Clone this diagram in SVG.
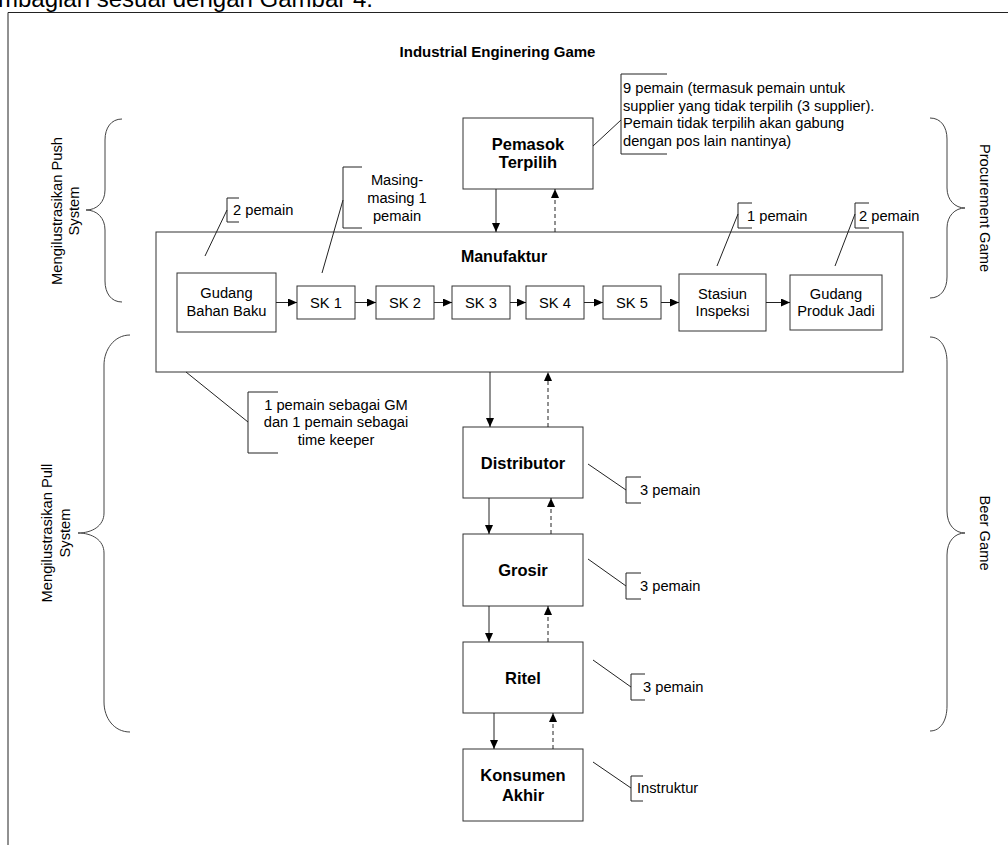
<svg xmlns="http://www.w3.org/2000/svg" width="1008" height="845" viewBox="0 0 1008 845">
<defs>
<style>
.t{font-family:"Liberation Sans",Arial,sans-serif;font-size:14.7px;fill:#000}
.b{font-weight:bold;font-size:16.5px}
.m{text-anchor:middle}
.box{fill:#fff;stroke:#333;stroke-width:1}
.ln{fill:none;stroke:#222;stroke-width:1}
.br{fill:none;stroke:#444;stroke-width:1}
.ds{stroke-dasharray:4,3}
</style>
<marker id="ah" markerUnits="userSpaceOnUse" markerWidth="9" markerHeight="8" refX="9" refY="4" orient="auto">
<path d="M0,0 L9,4 L0,8 z" fill="#000"/>
</marker>
</defs>
<rect width="1008" height="845" fill="#fff"/>
<text class="t" x="-2" y="7" style="font-size:24px">mbagian sesuai dengan Gambar 4.</text>
<path class="ln" d="M8,845 V12.5 H1008"/>
<text class="t m" x="497.5" y="57" style="font-weight:bold;font-size:15px">Industrial Enginering Game</text>

<g id="braces">
<path class="br" d="M122,119 C111,119 105,128 105,140 L105,190 C105,202 97,210 86,210 C97,210 105,218 105,230 L105,281 C105,293 111,302 122,302"/>
<text class="t m" transform="translate(62,211) rotate(-90)">Mengilustrasikan Push<tspan x="0" dy="16.7">System</tspan></text>
<path class="br" d="M130,335 C114,335 104,350 104,365 L104,513 C104,526 92,533 78,533 C92,533 104,540 104,553 L104,702 C104,718 114,732 130,732"/>
<text class="t m" transform="translate(52,533) rotate(-90)">Mengilustrasikan Pull<tspan x="0" dy="18.3">System</tspan></text>
<path class="br" d="M930,118 C941,118 947,127 947,139 L947,188 C947,200 955,208 965,208 C955,208 947,216 947,228 L947,277 C947,289 941,298 930,298"/>
<text class="t m" transform="translate(980,208) rotate(90)">Procurement Game</text>
<path class="br" d="M930,337 C941,337 947,348 947,362 L947,511 C947,525 955,533 965,533 C955,533 947,541 947,555 L947,706 C947,720 941,731 930,731"/>
<text class="t m" transform="translate(980,533) rotate(90)">Beer Game</text>
</g>

<g id="pemasok">
<rect class="box" x="463" y="118" width="130" height="71"/>
<text class="t b m" x="528" y="150">Pemasok</text>
<text class="t b m" x="528" y="168">Terpilih</text>
</g>

<g id="manufaktur">
<rect class="box" x="156" y="232" width="747" height="140"/>
<text class="t b m" x="504" y="262" style="font-size:16px">Manufaktur</text>
</g>

<g id="gudang-bahan-baku">
<rect class="box" x="177" y="273" width="99" height="59"/>
<text class="t m" x="226.5" y="298">Gudang</text>
<text class="t m" x="226.5" y="315.6">Bahan Baku</text>
</g>
<g id="sk1"><rect class="box" x="297" y="286" width="58" height="33"/><text class="t m" x="326" y="307.8">SK 1</text></g>
<g id="sk2"><rect class="box" x="376" y="286" width="58" height="33"/><text class="t m" x="405" y="307.8">SK 2</text></g>
<g id="sk3"><rect class="box" x="452" y="286" width="58" height="33"/><text class="t m" x="481" y="307.8">SK 3</text></g>
<g id="sk4"><rect class="box" x="526" y="286" width="58" height="33"/><text class="t m" x="555" y="307.8">SK 4</text></g>
<g id="sk5"><rect class="box" x="603" y="286" width="58" height="33"/><text class="t m" x="632" y="307.8">SK 5</text></g>
<g id="stasiun-inspeksi">
<rect class="box" x="679" y="274" width="87" height="57"/>
<text class="t m" x="722.5" y="298.5">Stasiun</text>
<text class="t m" x="722.5" y="316">Inspeksi</text>
</g>
<g id="gudang-produk-jadi">
<rect class="box" x="790" y="275" width="92" height="55"/>
<text class="t m" x="836" y="298.5">Gudang</text>
<text class="t m" x="836" y="316">Produk Jadi</text>
</g>

<g id="distributor">
<rect class="box" x="463" y="427" width="120" height="71"/>
<text class="t b m" x="523" y="468.5">Distributor</text>
</g>
<g id="grosir">
<rect class="box" x="463" y="534" width="120" height="72"/>
<text class="t b m" x="523" y="575.5">Grosir</text>
</g>
<g id="ritel">
<rect class="box" x="463" y="642" width="120" height="71"/>
<text class="t b m" x="523" y="683.5">Ritel</text>
</g>
<g id="konsumen-akhir">
<rect class="box" x="463" y="749" width="120" height="72"/>
<text class="t b m" x="523" y="781">Konsumen</text>
<text class="t b m" x="523" y="800.5">Akhir</text>
</g>

<g id="connectors">
<line class="ln" x1="496" y1="189" x2="496" y2="232" marker-end="url(#ah)"/>
<line class="ln ds" x1="555" y1="232" x2="555" y2="189" marker-end="url(#ah)"/>
<line class="ln" x1="276" y1="302.5" x2="297" y2="302.5" marker-end="url(#ah)"/>
<line class="ln" x1="355" y1="302.5" x2="376" y2="302.5" marker-end="url(#ah)"/>
<line class="ln" x1="434" y1="302.5" x2="452" y2="302.5" marker-end="url(#ah)"/>
<line class="ln" x1="510" y1="302.5" x2="526" y2="302.5" marker-end="url(#ah)"/>
<line class="ln" x1="584" y1="302.5" x2="603" y2="302.5" marker-end="url(#ah)"/>
<line class="ln" x1="661" y1="302.5" x2="679" y2="302.5" marker-end="url(#ah)"/>
<line class="ln" x1="766" y1="302.5" x2="790" y2="302.5" marker-end="url(#ah)"/>
<line class="ln" x1="490" y1="372" x2="490" y2="427" marker-end="url(#ah)"/>
<line class="ln ds" x1="548" y1="427" x2="548" y2="372" marker-end="url(#ah)"/>
<line class="ln" x1="489" y1="498" x2="489" y2="534" marker-end="url(#ah)"/>
<line class="ln ds" x1="551" y1="534" x2="551" y2="498" marker-end="url(#ah)"/>
<line class="ln" x1="489" y1="606" x2="489" y2="642" marker-end="url(#ah)"/>
<line class="ln ds" x1="548" y1="642" x2="548" y2="606" marker-end="url(#ah)"/>
<line class="ln" x1="494" y1="713" x2="494" y2="749" marker-end="url(#ah)"/>
<line class="ln ds" x1="553" y1="749" x2="553" y2="713" marker-end="url(#ah)"/>
</g>

<g id="callout-pemasok">
<path class="ln" d="M667,74 H621 V154 H667 M621,120 L593,146"/>
<text class="t" x="623" y="93">9 pemain (termasuk pemain untuk</text>
<text class="t" x="623" y="110.5">supplier yang tidak terpilih (3 supplier).</text>
<text class="t" x="623" y="128">Pemain tidak terpilih akan gabung</text>
<text class="t" x="623" y="145.5">dengan pos lain nantinya)</text>
</g>
<g id="callout-gudang-bahan">
<path class="ln" d="M239,198 H227 V222 H239 M227,210 L205,256"/>
<text class="t" x="233" y="215">2 pemain</text>
</g>
<g id="callout-sk">
<path class="ln" d="M362,167 H343 V228 H362 M343,200 L322,273"/>
<text class="t m" x="397" y="185.3">Masing-</text>
<text class="t m" x="397" y="203">masing 1</text>
<text class="t m" x="397" y="220.6">pemain</text>
</g>
<g id="callout-stasiun">
<path class="ln" d="M752,203 H738 V228 H752 M738,214 L717,266"/>
<text class="t" x="747" y="220.5">1 pemain</text>
</g>
<g id="callout-gudang-produk">
<path class="ln" d="M869,203 H855 V228 H869 M855,214 L835,266"/>
<text class="t" x="859" y="220.5">2 pemain</text>
</g>
<g id="callout-gm">
<path class="ln" d="M278,392 H248 V453 H278 M248,422 L186,372"/>
<text class="t m" x="336" y="409.5">1 pemain sebagai GM</text>
<text class="t m" x="336" y="427">dan 1 pemain sebagai</text>
<text class="t m" x="336" y="444.6">time keeper</text>
</g>
<g id="callout-distributor">
<path class="ln" d="M641,477 H626 V503 H641 M626,490 L588,464"/>
<text class="t" x="640" y="495">3 pemain</text>
</g>
<g id="callout-grosir">
<path class="ln" d="M641,573 H626 V599 H641 M626,586 L588,559"/>
<text class="t" x="640" y="591">3 pemain</text>
</g>
<g id="callout-ritel">
<path class="ln" d="M645,674 H631 V700 H645 M631,687 L593,660"/>
<text class="t" x="643" y="692">3 pemain</text>
</g>
<g id="callout-konsumen">
<path class="ln" d="M643,776 H631 V801 H643 M631,788 L593,762"/>
<text class="t" x="637" y="793">Instruktur</text>
</g>
</svg>
